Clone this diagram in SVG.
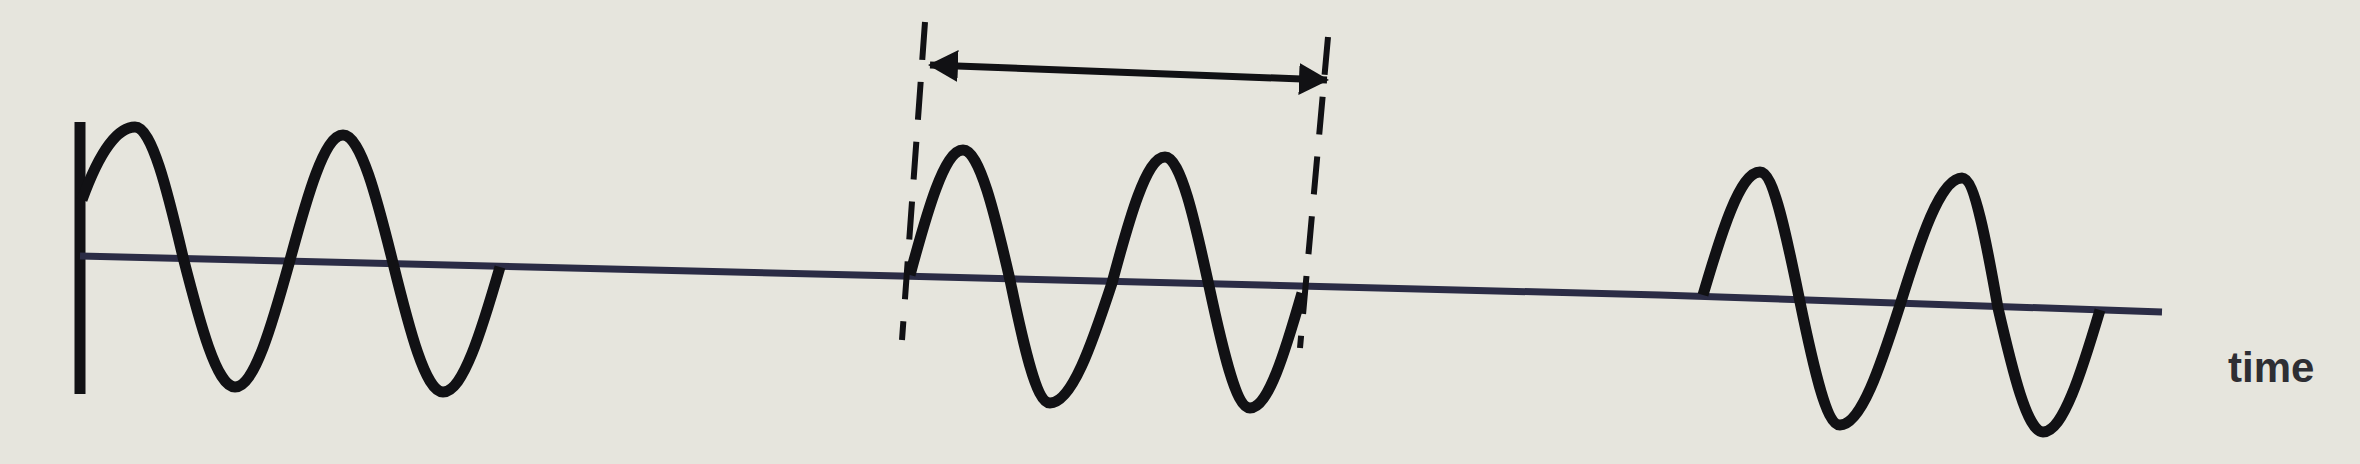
<svg xmlns="http://www.w3.org/2000/svg" width="2360" height="464" viewBox="0 0 2360 464">
  <style>
    .wave { fill: none; stroke: #111114; stroke-width: 11; stroke-linejoin: round; stroke-linecap: butt; }
    .axis { fill: none; stroke: #111114; stroke-width: 11; }
    .base { fill: none; stroke: #2b2c45; stroke-width: 7; stroke-linejoin: round; }
    .dash { fill: none; stroke: #111114; stroke-width: 6; stroke-dasharray: 38 22; }
    .arrow { fill: none; stroke: #111114; stroke-width: 7; }
    .label { font-family: "Liberation Sans", Arial, sans-serif; font-weight: bold; font-size: 42px; fill: #2e2e33; }
  </style>
  <defs>
    <marker id="head" viewBox="0 0 30 32" refX="28" refY="16" markerWidth="30" markerHeight="32" markerUnits="userSpaceOnUse" orient="auto-start-reverse">
      <path d="M0,0 L30,16 L0,32 Z" fill="#111114"/>
    </marker>
  </defs>
  <rect width="2360" height="464" fill="#e6e5dd"/>

  <g id="axes">
    <line class="axis" x1="80" y1="122" x2="80" y2="394"/>
    <polyline class="base" points="80,256 900,276 1660,295 2162,312"/>
  </g>

  <g id="wave-1">
    <path class="wave" d="M82,200 C100,150 118,127 135,127 C151.8,127 167.3,190.4 183,257 C200,323.6 216.8,387 235,387 C254.2,387 272,325.1 290,260 C307.3,195.9 324.5,135 343,135 C360.5,135 376.7,197.4 393,263 C409.3,329.1 425.5,392 443,392 C462.9,392 481.4,331.1 500,267"/>
  </g>

  <g id="wave-2">
    <path class="wave" d="M910,275 C927.3,210.9 944.5,150 963,150 C979.4,150 994.7,213.4 1010,280 C1023,343 1036,403 1050,403 C1071.7,403 1091.8,344.5 1112,283 C1129.3,218.4 1146.5,157 1165,157 C1180.4,157 1194.6,219.9 1209,286 C1222.4,348.5 1235.7,408 1250,408 C1268.2,408 1285,352 1302,293"/>
  </g>

  <g id="wave-3">
    <path class="wave" d="M1703,295 C1721.6,231.9 1740.1,172 1760,172 C1774,172 1787,238.6 1800,302 C1813,365 1826,425 1840,425 C1861,425 1880.4,366.5 1900,305 C1920.2,239.9 1940.3,178 1962,178 C1974.6,178 1986.3,241.4 1998,308 C2012.7,371.6 2027.3,432 2043,432 C2062.9,432 2081.4,372.5 2100,310"/>
  </g>

  <g id="connectors">
    <line class="dash" x1="925" y1="22" x2="902" y2="340"/>
    <line class="dash" x1="1328" y1="37" x2="1300" y2="348"/>
    <line class="arrow" x1="930" y1="65" x2="1327" y2="80" marker-start="url(#head)" marker-end="url(#head)"/>
  </g>

  <g id="label-time">
    <text class="label" x="2228" y="382">time</text>
  </g>
</svg>
